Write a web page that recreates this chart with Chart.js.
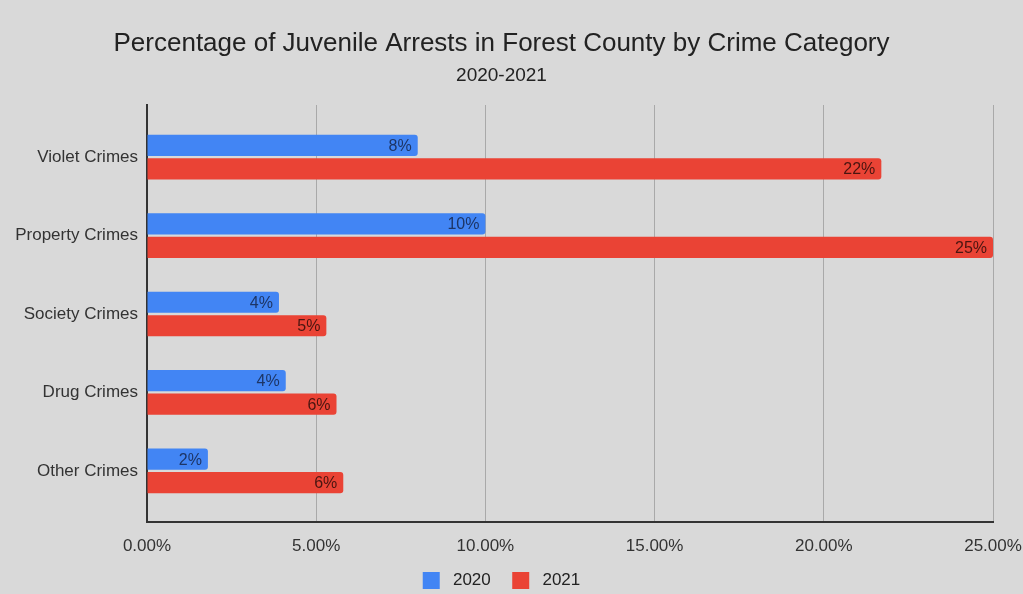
<!DOCTYPE html>
<html>
<head>
<meta charset="utf-8">
<script src="https://cdn.jsdelivr.net/npm/chart.js@4.4.1/dist/chart.umd.min.js"></script>
<style>
  html, body { margin: 0; padding: 0; background: #d9d9d9; }
  #wrap { width: 1023px; height: 594px; }
</style>
</head>
<body>
<div id="wrap"><canvas id="crime-chart" width="1023" height="594"></canvas></div>
<script>
// Juvenile arrests by crime category, share of all arrests (%)
const categories = ["Violet Crimes", "Property Crimes", "Society Crimes", "Drug Crimes", "Other Crimes"];
const years = ["2020", "2021"];
const values2020 = [8.0, 10.0, 3.9, 4.1, 1.8];
const values2021 = [21.7, 25.0, 5.3, 5.6, 5.8];
const barLabels2020 = ["8%", "10%", "4%", "4%", "2%"];
const barLabels2021 = ["22%", "25%", "5%", "6%", "6%"];
const xTicks = [0, 5, 10, 15, 20, 25];

const FONT = "'Liberation Sans', Arial, sans-serif";

const backgroundPlugin = {
  id: "bg",
  beforeDraw(chart) {
    const ctx = chart.ctx;
    ctx.save();
    ctx.fillStyle = "#d9d9d9";
    ctx.fillRect(0, 0, chart.width, chart.height);
    ctx.restore();
  },
};

// value text drawn inside the end of each bar
const barLabelPlugin = {
  id: "barLabels",
  afterDatasetsDraw(chart) {
    const ctx = chart.ctx;
    ctx.save();
    ctx.font = "16px " + FONT;
    ctx.textAlign = "right";
    ctx.textBaseline = "middle";
    chart.data.datasets.forEach((ds, di) => {
      const meta = chart.getDatasetMeta(di);
      meta.data.forEach((bar, i) => {
        ctx.fillStyle = ds.labelColor;
        ctx.fillText(ds.barLabels[i], bar.x - 6, bar.y + 1);
      });
    });
    ctx.restore();
  },
};

const toPoints = (vals) => vals.map((v, i) => ({ x: v, y: i }));

new Chart(document.getElementById("crime-chart").getContext("2d"), {
  type: "bar",
  data: {
    datasets: [
      {
        label: years[0],
        data: toPoints(values2020),
        backgroundColor: "#4285f4",
        barLabels: barLabels2020,
        labelColor: "#1d3566",
        borderRadius: 3,
        borderSkipped: "start",
        categoryPercentage: 0.6,
        barPercentage: 0.9,
      },
      {
        label: years[1],
        data: toPoints(values2021),
        backgroundColor: "#ea4335",
        barLabels: barLabels2021,
        labelColor: "#4a1510",
        borderRadius: 3,
        borderSkipped: "start",
        categoryPercentage: 0.6,
        barPercentage: 0.9,
      },
    ],
  },
  options: {
    indexAxis: "y",
    responsive: false,
    animation: false,
    layout: { padding: { left: 0, right: 20, top: 0, bottom: -5 } },
    plugins: {
      title: {
        display: true,
        text: "Percentage of Juvenile Arrests in Forest County by Crime Category",
        color: "#222",
        font: { family: FONT, size: 26, weight: "normal" },
        padding: { top: 28, bottom: 5 },
      },
      subtitle: {
        display: true,
        text: "2020-2021",
        color: "#222",
        font: { family: FONT, size: 19, weight: "normal" },
        padding: { top: 0, bottom: 18 },
      },
      legend: {
        display: true,
        position: "bottom",
        labels: {
          color: "#222",
          font: { family: FONT, size: 17 },
          boxWidth: 17,
          boxHeight: 17,
          padding: 12,
          // a little extra room around the legend text
          generateLabels: (chart) =>
            Chart.defaults.plugins.legend.labels.generateLabels(chart).map((item, i) => ({
              ...item,
              text: " " + item.text + (i < years.length - 1 ? "  " : ""),
            })),
        },
      },
      tooltip: { enabled: false },
    },
    scales: {
      x: {
        type: "linear",
        min: 0,
        max: 25,
        afterBuildTicks: (s) => { s.ticks = xTicks.map((v) => ({ value: v })); },
        afterFit: (s) => { s.height = 38; s.paddingRight = 30; },
        ticks: {
          color: "#333",
          font: { family: FONT, size: 17 },
          padding: 14,
          callback: (v) => Number(v).toFixed(2) + "%",
        },
        grid: { color: "#a9a9a9", lineWidth: 1, drawTicks: false },
        border: { display: true, color: "#333", width: 2 },
      },
      y: {
        type: "linear",
        reverse: true,
        offset: false,
        min: -0.665,
        max: 4.652,
        afterBuildTicks: (s) => { s.ticks = categories.map((c, i) => ({ value: i })); },
        afterFit: (s) => { s.width = 147; },
        ticks: {
          color: "#333",
          font: { family: FONT, size: 17 },
          padding: 9,
          callback: (v) => categories[v],
        },
        grid: { display: false, drawTicks: false },
        border: { display: true, color: "#333", width: 2 },
      },
    },
  },
  plugins: [backgroundPlugin, barLabelPlugin],
});
</script>
</body>
</html>
